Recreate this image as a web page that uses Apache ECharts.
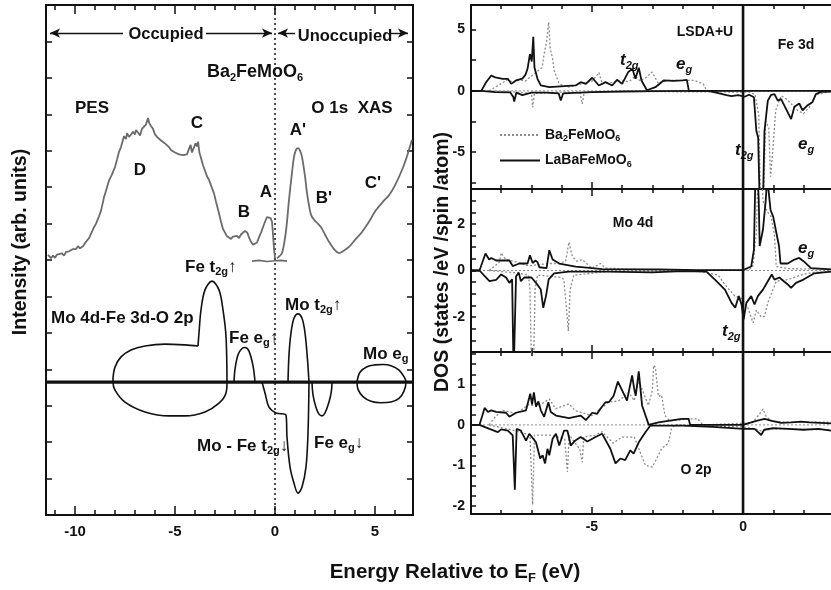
<!DOCTYPE html>
<html><head><meta charset="utf-8">
<script src="https://cdn.jsdelivr.net/npm/echarts@6/dist/echarts.min.js"></script>
<style>html,body{margin:0;padding:0;background:#fff}#c{width:831px;height:590px}</style>
</head><body><div id="c"></div>
<script>
// ---------------- DATA ----------------
// Left panel: PES / XAS spectra (energy eV, intensity arb.)
const pesCurve = [[-11.35,7.14],[-11.2,7.05],[-11.1,7.12],[-11.0,7.06],[-10.9,7.15],[-10.8,7.1],[-10.65,7.18],[-10.55,7.12],[-10.45,7.22],[-10.3,7.24],[-10.2,7.2],[-10.1,7.3],[-9.95,7.3],[-9.85,7.38],[-9.75,7.32],[-9.6,7.38],[-9.45,7.5],[-9.3,7.6],[-9.2,7.72],[-9.05,7.9],[-8.95,8.0],[-8.8,8.2],[-8.7,8.35],[-8.55,8.72],[-8.45,8.9],[-8.3,9.18],[-8.15,9.35],[-8.0,9.55],[-7.9,9.75],[-7.8,9.97],[-7.7,10.1],[-7.6,10.3],[-7.55,10.4],[-7.45,10.32],[-7.4,10.48],[-7.3,10.38],[-7.2,10.44],[-7.1,10.52],[-7.0,10.45],[-6.95,10.57],[-6.85,10.5],[-6.75,10.42],[-6.65,10.6],[-6.55,10.66],[-6.45,10.72],[-6.35,10.9],[-6.28,10.75],[-6.2,10.68],[-6.1,10.6],[-6.0,10.45],[-5.9,10.38],[-5.8,10.4],[-5.7,10.28],[-5.6,10.33],[-5.5,10.2],[-5.4,10.15],[-5.3,10.1],[-5.2,10.02],[-5.1,10.05],[-5.0,9.95],[-4.9,9.98],[-4.8,9.9],[-4.7,9.95],[-4.6,9.88],[-4.5,9.93],[-4.4,9.9],[-4.3,10.05],[-4.22,10.16],[-4.15,9.95],[-4.05,9.93],[-3.97,10.2],[-3.9,10.12],[-3.85,10.25],[-3.78,9.95],[-3.7,9.8],[-3.6,9.6],[-3.5,9.45],[-3.4,9.3],[-3.3,9.2],[-3.2,9.05],[-3.05,8.83],[-2.95,8.6],[-2.8,8.28],[-2.7,8.05],[-2.6,7.85],[-2.5,7.75],[-2.4,7.65],[-2.3,7.62],[-2.2,7.58],[-2.1,7.64],[-2.0,7.6],[-1.9,7.66],[-1.8,7.6],[-1.7,7.7],[-1.6,7.68],[-1.5,7.8],[-1.45,7.84],[-1.38,7.75],[-1.3,7.62],[-1.2,7.5],[-1.1,7.42],[-1.0,7.4],[-0.9,7.48],[-0.8,7.62],[-0.7,7.75],[-0.6,7.9],[-0.5,8.05],[-0.4,8.18],[-0.3,8.21],[-0.22,8.15],[-0.15,8.05],[-0.1,7.7],[-0.05,7.3],[0.0,7.05]];
const pesFlat = [[-1.15,6.97],[-0.8,6.99],[-0.4,6.96],[0.0,6.98],[0.3,6.99],[0.6,6.97]];
const xasCurve = [[0.1,7.05],[0.35,7.19],[0.55,7.8],[0.7,8.65],[0.85,9.4],[0.95,9.83],[1.05,10.02],[1.15,10.07],[1.25,10.0],[1.35,9.83],[1.5,9.3],[1.6,8.84],[1.75,8.35],[1.85,8.18],[2.05,8.05],[2.3,7.9],[2.5,7.7],[2.7,7.5],[2.95,7.3],[3.2,7.19],[3.45,7.26],[3.7,7.36],[4.0,7.55],[4.35,7.77],[4.7,8.05],[5.05,8.37],[5.4,8.6],[5.7,8.78],[6.0,9.05],[6.35,9.47],[6.6,9.85],[6.85,10.3]];
// Left panel: schematic band diagram (baseline 3.65)
const schemBaseline = 3.65;
const blobTop = [[-8.1,3.76],[-8.0,4.06],[-7.7,4.34],[-7.2,4.53],[-6.5,4.64],[-5.5,4.69],[-4.5,4.67],[-3.85,4.64]];
const feT2gUp = [[-3.85,4.64],[-3.8,5.0],[-3.7,5.63],[-3.5,6.18],[-3.15,6.42],[-2.8,6.18],[-2.6,5.63],[-2.45,4.9],[-2.4,3.65]];
const blobBottom = [[-2.4,3.65],[-2.45,3.35],[-2.8,3.07],[-3.5,2.83],[-4.5,2.72],[-5.3,2.72],[-6.5,2.83],[-7.5,3.1],[-8.0,3.43],[-8.1,3.65],[-8.1,3.76]];
const feEgUp = [[-2.05,3.65],[-2.0,4.0],[-1.85,4.4],[-1.65,4.57],[-1.5,4.6],[-1.3,4.5],[-1.1,4.1],[-1.0,3.65]];
const moT2gUp = [[0.65,3.65],[0.7,4.4],[0.8,5.0],[0.95,5.4],[1.15,5.52],[1.35,5.4],[1.5,5.0],[1.62,4.3],[1.7,3.65]];
const moFeT2gDn = [[-0.65,3.65],[-0.5,3.35],[-0.3,2.96],[0.05,2.8],[0.55,2.74],[0.6,2.14],[0.75,1.32],[0.95,0.87],[1.15,0.6],[1.35,0.77],[1.55,1.32],[1.65,2.25],[1.7,3.65]];
const feEgDn = [[1.85,3.65],[1.9,3.3],[2.05,2.95],[2.2,2.77],[2.35,2.72],[2.5,2.8],[2.7,3.1],[2.82,3.4],[2.85,3.65]];
const moEg = [[4.1,3.65],[4.25,3.92],[4.6,4.07],[5.0,4.12],[5.4,4.13],[5.8,4.1],[6.2,3.98],[6.45,3.8],[6.55,3.65],[6.45,3.4],[6.2,3.2],[5.8,3.1],[5.3,3.08],[4.8,3.12],[4.4,3.25],[4.15,3.45],[4.1,3.65]];

// Right panels: DOS (states/eV/spin/atom) vs energy
const feLaUp = [[-9.0,0],[-8.66,0],[-8.5,0.7],[-8.33,1.25],[-8.2,1.1],[-7.95,0.98],[-7.78,0.98],[-7.67,0.57],[-7.51,0.85],[-7.3,1.0],[-7.2,1.3],[-7.13,1.8],[-7.05,3.0],[-6.99,2.4],[-6.94,4.4],[-6.9,1.9],[-6.8,0.98],[-6.69,0.44],[-6.41,0.3],[-5.54,0.44],[-5.37,0.71],[-5.2,0.57],[-4.99,1.07],[-4.77,0.44],[-4.55,0.71],[-4.33,0.44],[-4.17,0.9],[-4.0,0.57],[-3.8,1.53],[-3.66,1.8],[-3.56,0.98],[-3.45,1.89],[-3.36,0.85],[-3.18,0.05],[-2.9,0.3],[-2.63,0.85],[-2.3,0.82],[-2.0,0.85],[-1.86,0.9],[-1.79,0],[2.91,0]];
const feLaDn = [[-9.0,0],[-8.66,0],[-8.2,-0.1],[-7.7,-0.13],[-7.6,-0.5],[-7.57,-0.87],[-7.5,-0.15],[-7.3,-0.35],[-7.0,-0.15],[-6.5,-0.15],[-6.1,-0.2],[-6.03,-0.79],[-5.95,-0.2],[-5.0,-0.1],[-4.0,-0.05],[-3.0,-0.02],[-1.5,0],[-1.15,0],[-0.82,-0.19],[-0.55,-0.35],[-0.38,-0.43],[-0.16,-0.34],[0.05,-0.48],[0.2,-0.32],[0.36,-0.52],[0.44,-3.25],[0.5,-3.8],[0.55,-9],[0.66,-9],[0.71,-3.25],[0.82,-0.8],[0.93,-0.32],[1.04,-0.27],[1.15,-0.8],[1.26,-0.67],[1.59,-2.3],[1.7,-1.3],[1.86,-1.03],[1.97,-1.58],[2.14,-1.17],[2.3,-0.9],[2.41,-0.27],[2.58,-0.08],[2.91,-0.05]];
const feBaUp = [[-8.4,0],[-8.2,0.3],[-8.0,0.6],[-7.8,0.9],[-7.6,0.7],[-7.4,0.9],[-7.2,0.8],[-7.0,1.2],[-6.8,1.6],[-6.65,1.9],[-6.58,3.0],[-6.5,4.0],[-6.43,5.6],[-6.38,3.5],[-6.3,2.6],[-6.25,1.67],[-6.08,0.57],[-5.8,0.3],[-5.33,0.57],[-5.0,0.8],[-4.85,1.2],[-4.77,1.5],[-4.66,0.57],[-4.3,0.7],[-4.0,0.85],[-3.78,0.75],[-3.56,1.2],[-3.4,0.8],[-3.2,1.1],[-3.01,1.53],[-2.8,0.6],[-2.5,0.85],[-1.6,0.85],[-1.32,0.57],[-1.2,0],[2.91,0]];
const feBaDn = [[-8.4,0],[-7.5,-0.1],[-7.0,-0.2],[-6.96,-1.34],[-6.9,-0.2],[-6.0,-0.1],[-5.4,-0.1],[-5.32,-1.07],[-5.25,-0.1],[-4.0,-0.05],[0.2,-0.1],[0.4,-0.3],[0.52,-2.0],[0.58,-9],[0.68,-9],[0.75,-2.5],[0.85,-3.0],[0.91,-7.0],[0.98,-5.0],[1.08,-1.6],[1.26,-0.4],[1.45,-0.7],[1.81,-1.6],[2.0,-1.85],[2.2,-1.3],[2.41,-0.3],[2.91,-0.05]];

const moLaUp = [[-9,0],[-8.72,0],[-8.52,0.73],[-8.4,0.47],[-8.33,0.54],[-8.17,0.43],[-7.73,0.43],[-7.62,0.19],[-7.4,0.3],[-7.13,0.3],[-7.05,0.65],[-6.96,0.32],[-6.87,0.43],[-6.8,0.36],[-6.74,0.14],[-6.5,0.1],[-6.41,0.87],[-6.3,0.47],[-6.08,0.3],[-5.54,0.17],[-4.99,0.1],[-4.66,0.06],[-3.5,0.05],[-2.8,0.05],[-1.5,0.02],[0,0.02],[0.27,0.17],[0.36,0.9],[0.4,3.5],[0.47,4.5],[0.52,3.0],[0.55,1.05],[0.66,1.76],[0.69,1.8],[0.75,3.0],[0.8,4.0],[0.91,2.6],[1.0,2.3],[1.1,1.63],[1.19,1.05],[1.24,0.3],[1.48,0.3],[1.7,0.47],[1.86,0.54],[2.0,0.4],[2.25,0.1],[2.91,0.05]];
const moLaDn = [[-9,0],[-8.72,0],[-8.39,-0.46],[-8.17,-0.4],[-8.0,-0.17],[-7.84,-0.3],[-7.73,-0.53],[-7.64,-0.38],[-7.59,-4.5],[-7.53,-4.5],[-7.51,-0.26],[-7.42,-0.09],[-7.35,-0.46],[-7.24,-0.3],[-7.0,-0.3],[-6.85,-0.53],[-6.69,-0.82],[-6.61,-1.6],[-6.52,-1.1],[-6.43,-0.38],[-6.25,-0.12],[-5.77,-0.05],[-4.5,-0.05],[-3.0,-0.08],[-2.0,-0.03],[-1.21,-0.05],[-0.93,-0.39],[-0.6,-0.82],[-0.38,-1.39],[-0.26,-1.6],[-0.14,-1.1],[-0.05,-1.46],[0.02,-2.1],[0.11,-1.39],[0.27,-1.1],[0.38,-1.46],[0.49,-1.1],[0.66,-0.82],[0.82,-0.46],[0.95,-0.17],[1.04,-0.39],[1.2,-0.3],[1.48,-0.6],[1.59,-0.75],[1.75,-0.53],[2.0,-0.39],[2.36,-0.12],[2.91,-0.05]];
const moBaUp = [[-8.4,0],[-8.2,0.2],[-8.06,0.36],[-8.0,0.76],[-7.85,0.47],[-7.6,0.4],[-7.1,0.2],[-6.41,0.3],[-6.1,0.3],[-5.87,0.4],[-5.76,1.22],[-5.65,0.6],[-5.5,0.4],[-5.32,0.47],[-5.0,0.1],[-4.72,0.3],[-4.55,0.1],[-3.0,0.03],[0.2,0.03],[0.33,0.2],[0.44,1.63],[0.5,4.5],[0.6,4.5],[0.66,3.0],[0.77,2.6],[0.93,2.3],[1.04,1.5],[1.1,0.17],[1.5,0.08],[2.91,0.05]];
const moBaDn = [[-8.4,0],[-7.5,-0.1],[-7.1,-0.2],[-7.05,-0.8],[-7.0,-4],[-6.93,-4],[-6.88,-0.8],[-6.8,-0.2],[-6.0,-0.3],[-5.93,-0.39],[-5.85,-1.5],[-5.78,-2.6],[-5.72,-0.82],[-5.6,-0.2],[-4.5,-0.05],[-1.5,-0.02],[-0.82,-0.2],[-0.6,-0.6],[-0.27,-1.1],[-0.05,-1.2],[0.16,-1.6],[0.33,-2.25],[0.44,-1.7],[0.6,-2.0],[0.71,-1.96],[0.82,-1.39],[0.95,-0.96],[1.1,-0.46],[1.48,-0.39],[1.9,-0.2],[2.36,-0.07],[2.91,-0.05]];

const oLaUp = [[-9,0],[-8.72,0],[-8.55,0.42],[-8.44,0.32],[-8.33,0.36],[-8.17,0.32],[-7.84,0.3],[-7.73,0.2],[-7.51,0.3],[-7.18,0.36],[-7.04,0.77],[-6.98,0.5],[-6.92,0.8],[-6.85,0.45],[-6.77,0.58],[-6.69,0.36],[-6.58,0.2],[-6.44,0.56],[-6.36,0.32],[-6.19,0.23],[-5.76,0.17],[-5.37,0.23],[-5.2,0.12],[-4.99,0.3],[-4.83,0.27],[-4.72,0.4],[-4.55,0.56],[-4.44,0.56],[-4.28,0.72],[-4.14,1.07],[-4.0,0.85],[-3.84,0.6],[-3.67,1.22],[-3.6,0.89],[-3.55,0.72],[-3.45,1.32],[-3.34,0.48],[-3.12,0],[-2.8,0.06],[-2.47,0.1],[-2.03,0.15],[-1.8,0.15],[-1.75,0],[0,0],[0.27,0.06],[0.44,0.1],[0.71,0.15],[0.95,0.1],[1.26,0.05],[1.6,0.06],[1.92,0.08],[2.2,0.06],[2.91,0.04]];
const oLaDn = [[-9,0],[-8.72,0],[-8.39,-0.1],[-8.11,-0.18],[-8.0,-0.11],[-7.78,-0.14],[-7.62,-0.26],[-7.55,-1.6],[-7.49,-0.1],[-7.35,-0.14],[-7.18,-0.39],[-7.07,-0.22],[-6.85,-0.43],[-6.71,-0.83],[-6.63,-0.75],[-6.55,-0.95],[-6.47,-0.59],[-6.41,-0.75],[-6.3,-0.34],[-6.19,-0.22],[-6.08,-0.51],[-5.99,-0.3],[-5.92,-0.14],[-5.81,-0.14],[-5.7,-0.51],[-5.56,-0.39],[-5.37,-0.3],[-5.15,-0.41],[-4.88,-0.3],[-4.66,-0.22],[-4.39,-0.59],[-4.22,-0.95],[-4.06,-0.83],[-3.9,-0.87],[-3.73,-0.63],[-3.62,-0.71],[-3.45,-0.43],[-3.23,-0.18],[-3.07,-0.02],[-2.0,-0.02],[-1.0,-0.05],[0,-0.1],[0.38,-0.1],[0.5,-0.18],[0.6,-0.25],[0.7,-0.12],[1.0,-0.08],[1.5,-0.1],[2.0,-0.12],[2.5,-0.1],[2.91,-0.14]];
const oBaUp = [[-8.4,0],[-8.2,0.2],[-7.95,0.36],[-7.5,0.28],[-7.1,0.5],[-6.8,0.45],[-6.41,0.64],[-6.2,0.4],[-5.76,0.52],[-5.55,0.35],[-5.0,0.23],[-4.44,0.56],[-4.1,0.6],[-3.78,0.8],[-3.6,0.6],[-3.45,1.1],[-3.35,0.9],[-3.13,0.48],[-3.0,0.85],[-2.96,1.47],[-2.9,1.42],[-2.8,0.7],[-2.7,0.74],[-2.58,0.23],[-2.43,0.1],[-1.7,0.15],[-1.5,0.15],[-1.33,0],[0.3,0.05],[0.55,0.27],[0.66,0.39],[0.77,0.2],[0.95,0.1],[1.3,0.07],[2.91,0.07]];
const oBaDn = [[-8.4,0],[-7.5,-0.15],[-7.05,-0.25],[-6.96,-1.97],[-6.9,-0.25],[-6.4,-0.25],[-5.9,-0.35],[-5.81,-1.16],[-5.75,-0.25],[-5.4,-0.6],[-5.32,-0.92],[-5.27,-0.3],[-4.9,-0.25],[-4.66,-0.17],[-4.3,-0.45],[-4.0,-0.3],[-3.6,-0.3],[-3.23,-1.0],[-3.0,-1.04],[-2.8,-0.75],[-2.7,-0.59],[-2.47,-0.45],[-2.37,-0.1],[-2.25,0],[0,-0.05],[0.4,-0.1],[0.6,-0.15],[1.0,-0.1],[2.91,-0.12]];

// Axis ranges / ticks / labels
const leftXRange = [-11.45, 6.9], leftYRange = [0, 14];
const leftXTicks = [-11,-10,-9,-8,-7,-6,-5,-4,-3,-2,-1,0,1,2,3,4,5,6];
const leftXMajor = [-10,-5,0,5];
const leftYTicks = [0,1,2,3,4,5,6,7,8,9,10,11,12,13,14];
const rightXRange = [-9, 2.91];
const rightXTicks = [-9,-8,-7,-6,-5,-4,-3,-2,-1,0,1,2];
const rightXMajor = [-5,0];
const p1Range = [-8,7], p1Ticks = [-7.5,-5,-2.5,0,2.5,5], p1Labels = [-5,0,5];
const p2Range = [-3.5,3.5], p2Ticks = [-3.5,-3,-2.5,-2,-1.5,-1,-0.5,0,0.5,1,1.5,2,2.5,3,3.5], p2Labels = [-2,0,2];
const p3Range = [-2.2,1.8], p3Ticks = [-2,-1.75,-1.5,-1.25,-1,-0.75,-0.5,-0.25,0,0.25,0.5,0.75,1,1.25,1.5,1.75], p3Labels = [-2,-1,0,1];
const legendNames = ['Ba2FeMoO6','LaBaFeMoO6'];

// ---------------- CHART ----------------
const F = '"Liberation Sans", Arial, Helvetica, sans-serif';
const INK = '#111';
const DOT = '#8c8c8c';
const chart = echarts.init(document.getElementById('c'), null, {renderer:'canvas'});

const grids = [
  {left:46, top:5, width:367, height:510},
  {left:471, top:5, width:362, height:184},
  {left:471, top:189, width:362, height:163},
  {left:471, top:352, width:362, height:162}
];
const xAxes = [], yAxes = [];
function addX(grid, pos, range, ticks, len, labels, fs, margin){
  xAxes.push({type:'value', gridIndex:grid, position:pos, min:range[0], max:range[1],
    axisLine:{show:true, onZero:false, lineStyle:{color:INK, width:2}},
    axisTick:{show:true, inside:true, length:len, customValues:ticks, lineStyle:{color:INK, width:1.5}},
    axisLabel:labels ? {show:true, customValues:labels, fontSize:fs, fontWeight:'bold', fontFamily:F, color:INK, margin:margin} : {show:false},
    splitLine:{show:false}});
  return xAxes.length-1;
}
function addY(grid, pos, range, ticks, len, labels, fs, margin){
  yAxes.push({type:'value', gridIndex:grid, position:pos, min:range[0], max:range[1],
    axisLine:{show:true, onZero:false, lineStyle:{color:INK, width:2}},
    axisTick:{show:true, inside:true, length:len, customValues:ticks, lineStyle:{color:INK, width:1.5}},
    axisLabel:labels ? {show:true, customValues:labels, fontSize:fs, fontWeight:'bold', fontFamily:F, color:INK, margin:margin} : {show:false},
    splitLine:{show:false}});
  return yAxes.length-1;
}
// left panel axes
const LX = addX(0,'bottom',leftXRange,leftXTicks,5,null);
addX(0,'bottom',leftXRange,leftXMajor,9,leftXMajor,15,9);
addX(0,'top',leftXRange,leftXTicks,5,null);
addX(0,'top',leftXRange,leftXMajor,9,null);
const LY = addY(0,'left',leftYRange,leftYTicks,6,null);
addY(0,'right',leftYRange,leftYTicks,6,null);
// right panels
const pr = [p1Range,p2Range,p3Range], pt=[p1Ticks,p2Ticks,p3Ticks], pl=[p1Labels,p2Labels,p3Labels];
const RX=[], RY=[];
for (let p=0;p<3;p++){
  const g=p+1;
  RX.push(addX(g,'bottom',rightXRange,rightXTicks,4,null));
  addX(g,'bottom',rightXRange,rightXMajor,7,p===2?rightXMajor:null,14,6);
  addX(g,'top',rightXRange,rightXTicks,4,null);
  addX(g,'top',rightXRange,rightXMajor,7,null);
  RY.push(addY(g,'left',pr[p],pt[p],5,pl[p],14,6));
}

function line(xi, yi, data, style, extra){
  return Object.assign({type:'line', xAxisIndex:xi, yAxisIndex:yi, data:data, symbol:'none', showSymbol:false, silent:true,
    lineStyle:style, itemStyle:{color:style.color}, animation:false}, extra||{});
}
const series = [];
// left panel
const black = {color:INK, width:1.6};
series.push(line(LX,LY,[[0,0],[0,14]],{color:INK,width:1.5,type:[2,3]},{name:'ef',
  markLine:{silent:true, animation:false, label:{show:false}, symbolSize:[7,10], lineStyle:{color:INK,width:1.4,type:'solid'},
    data:[
      [{coord:[-11.25,13.23],symbol:'arrow'},{coord:[-7.6,13.23],symbol:'none'}],
      [{coord:[-3.45,13.23],symbol:'none'},{coord:[-0.15,13.23],symbol:'arrow'}],
      [{coord:[0.15,13.23],symbol:'arrow'},{coord:[1.0,13.23],symbol:'none'}],
      [{coord:[5.8,13.23],symbol:'none'},{coord:[6.65,13.23],symbol:'arrow'}]
    ]}}));
series.push(line(LX,LY,[[leftXRange[0],schemBaseline],[leftXRange[1],schemBaseline]],{color:INK,width:3.2},{name:'base'}));
series.push(line(LX,LY,pesCurve,{color:'#6b6b6b',width:1.8},{name:'pes'}));
series.push(line(LX,LY,pesFlat,{color:'#6b6b6b',width:1.6},{name:'flat'}));
series.push(line(LX,LY,xasCurve,{color:'#6b6b6b',width:1.8},{name:'xas',smooth:0.3}));
[blobTop,feT2gUp,blobBottom,feEgUp,moT2gUp,moFeT2gDn,feEgDn,moEg].forEach((d,i)=>{
  series.push(line(LX,LY,d,black,{name:'sch'+i,smooth:0.35}));
});
// right panels
const dos = [[feBaUp,feBaDn,feLaUp,feLaDn],[moBaUp,moBaDn,moLaUp,moLaDn],[oBaUp,oBaDn,oLaUp,oLaDn]];
for (let p=0;p<3;p++){
  const xi=RX[p], yi=RY[p];
  series.push(line(xi,yi,[[rightXRange[0],0],[rightXRange[1],0]],{color:'#8a8a8a',width:1,type:[2,2]},{name:'zero'+p}));
  series.push(line(xi,yi,dos[p][0],{color:DOT,width:1.3,type:[2,2]},{name:legendNames[0]}));
  series.push(line(xi,yi,dos[p][1],{color:DOT,width:1.3,type:[2,2]},{name:legendNames[0]}));
  series.push(line(xi,yi,dos[p][2],{color:INK,width:1.8},{name:legendNames[1]}));
  series.push(line(xi,yi,dos[p][3],{color:INK,width:1.8},{name:legendNames[1]}));
  series.push(line(xi,yi,[[0,pr[p][0]],[0,pr[p][1]]],{color:INK,width:2.6},{name:'v'+p}));
}

// text annotations
function rich(size){
  const sub = Math.round(size*0.62);
  return {
    s:{fontSize:sub, fontWeight:'bold', fontFamily:F, fill:INK, padding:[Math.round(size*0.6),0,0,0]},
    i:{fontSize:size, fontWeight:'bold', fontStyle:'italic', fontFamily:F, fill:INK},
    is:{fontSize:Math.round(size*0.66), fontWeight:'bold', fontStyle:'italic', fontFamily:F, fill:INK, padding:[Math.round(size*0.65),0,0,0]}
  };
}
function T(x,y,text,size,align,extra){
  return Object.assign({type:'text', x:x, y:y, silent:true, z:100,
    style:{text:text, fill:INK, font:'bold '+size+'px '+F, fontSize:size, fontWeight:'bold', fontFamily:F,
      textAlign:align||'center', textVerticalAlign:'middle', align:align||'center', verticalAlign:'middle', rich:rich(size)}}, extra||{});
}
const texts = [
  T(166,34,'Occupied',16.5), T(345,36,'Unoccupied',16.5),
  T(255,72,'Ba{s|2}FeMoO{s|6}',18),
  T(92,108,'PES',17), T(352,108,'O 1s  XAS',17),
  T(197,123,'C',17), T(140,170,'D',17), T(298,130,"A'",17), T(266,192,'A',17),
  T(244,212,'B',17), T(324,198,"B'",17), T(373,183,"C'",17),
  T(185,267,'Fe t{s|2g}\u2191',17,'left'),
  T(51,318,'Mo 4d-Fe 3d-O 2p',17,'left'),
  T(285,305,'Mo t{s|2g}\u2191',17,'left'),
  T(229,338,'Fe e{s|g}\u2191',17,'left'),
  T(363,354,'Mo e{s|g}',17,'left'),
  T(197,446,'Mo - Fe t{s|2g}\u2193',17,'left'),
  T(314,443,'Fe e{s|g}\u2193',17,'left'),
  T(21,242,'Intensity (arb. units)',19.5,'center',{rotation:Math.PI/2}),
  T(455,572,'Energy Relative to E{s|F} (eV)',20.5),
  T(705,32,'LSDA+U',14), T(796,45,'Fe 3d',14),
  T(620,60,'{i|t}{is|2g}',17,'left'), T(676,64,'{i|e}{is|g}',17,'left'),
  T(735,150,'{i|t}{is|2g}',17,'left'), T(798,144,'{i|e}{is|g}',17,'left'),
  T(633,223,'Mo 4d',14),
  T(798,248,'{i|e}{is|g}',17,'left'), T(722,331,'{i|t}{is|2g}',17,'left'),
  T(696,470,'O 2p',14),
  T(443,262,'DOS (states /eV /spin /atom)',19.5,'center',{rotation:Math.PI/2})
];

chart.setOption({
  animation:false,
  backgroundColor:'#fff',
  grid:grids,
  xAxis:xAxes, yAxis:yAxes,
  legend:{left:494, top:123, orient:'vertical', itemWidth:40, itemHeight:12, itemGap:10, selectedMode:false,
    data:legendNames, itemStyle:{opacity:0},
    formatter:function(n){ return n===legendNames[0] ? 'Ba{s|2}FeMoO{s|6}' : 'LaBaFeMoO{s|6}'; },
    textStyle:{fontSize:14, fontWeight:'bold', fontFamily:F, color:INK,
      rich:{s:{fontSize:9, fontWeight:'bold', fontFamily:F, color:INK, padding:[8,0,0,0]}}}},
  series:series,
  graphic:texts
});
</script></body></html>
